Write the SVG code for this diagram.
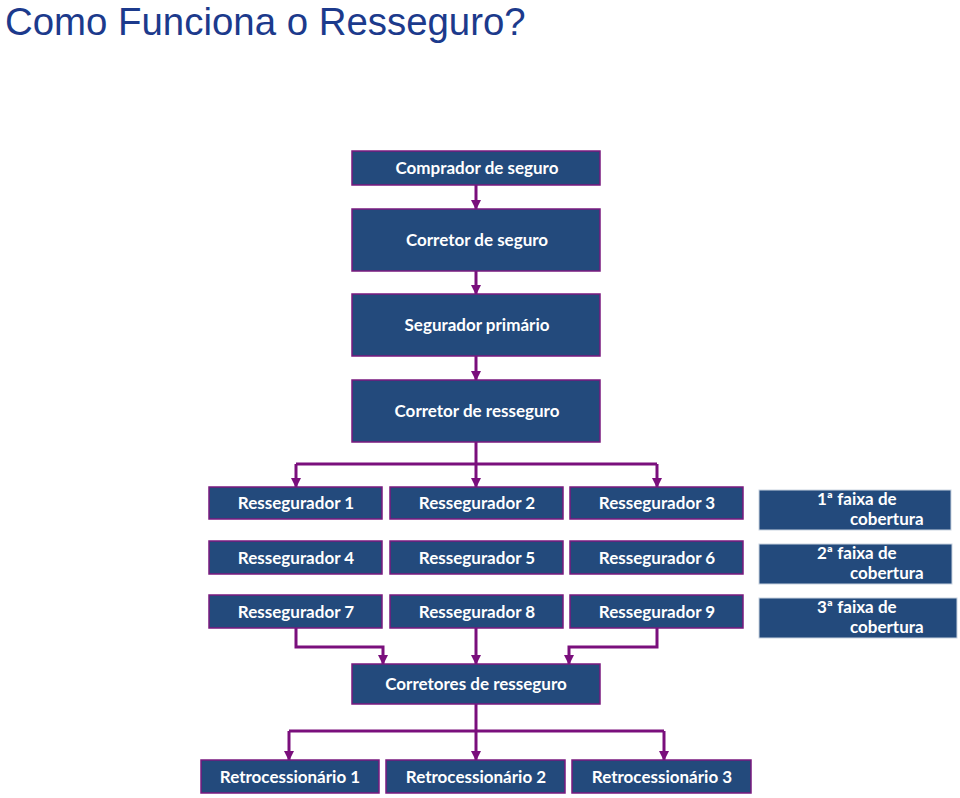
<svg xmlns="http://www.w3.org/2000/svg" width="960" height="798" viewBox="0 0 960 798">
<defs>
<style>
.n rect{fill:#234a7c;stroke:#7a1a7f;stroke-width:1.5}
.s rect{fill:#234a7c;stroke:#c9d3e0;stroke-width:1}
text.t{font-family:Lato,"Open Sans","Liberation Sans",sans-serif;font-weight:bold;font-size:17px;fill:#ffffff;text-anchor:middle}
text.l{font-family:Lato,"Open Sans","Liberation Sans",sans-serif;font-weight:bold;font-size:17px;fill:#ffffff}
.c path{fill:none;stroke:#7a0f7c;stroke-width:3;marker-end:url(#ah)}
.c path.nm{marker-end:none}
</style>
<marker id="ah" viewBox="0 0 10 10" refX="9" refY="5" markerWidth="3.4" markerHeight="3.4" orient="auto" markerUnits="strokeWidth">
<path d="M0,0 L10,5 L0,10 Z" fill="#7a0f7c"/>
</marker>
</defs>
<rect width="960" height="798" fill="#ffffff"/>
<text x="5" y="35" font-family="Liberation Sans,Arial,sans-serif" font-size="38.4" fill="#1c3a8c">Como Funciona o Resseguro?</text>

<g class="c" id="connectors">
<path d="M476,185 V209"/>
<path d="M476,271 V294"/>
<path d="M476,356 V380"/>
<path class="nm" d="M476,442 V464"/>
<path class="nm" d="M296,464 H657"/>
<path d="M296,464 V487"/>
<path d="M476,464 V487"/>
<path d="M657,464 V487"/>
<path d="M296,628 V647 H383 V664"/>
<path d="M476,628 V664"/>
<path d="M657,628 V647 H569 V664"/>
<path class="nm" d="M476,704 V731"/>
<path class="nm" d="M289,731 H664"/>
<path d="M289,731 V760"/>
<path d="M476,731 V760"/>
<path d="M664,731 V760"/>
</g>

<g class="n" id="comprador"><rect x="352" y="151" width="248" height="34"/><text class="t" x="477" y="174">Comprador de seguro</text></g>
<g class="n" id="corretor-seguro"><rect x="352" y="209" width="248" height="62"/><text class="t" x="477" y="246">Corretor de seguro</text></g>
<g class="n" id="segurador"><rect x="352" y="294" width="248" height="62"/><text class="t" x="477" y="331">Segurador primário</text></g>
<g class="n" id="corretor-resseguro"><rect x="352" y="380" width="248" height="62"/><text class="t" x="477" y="417">Corretor de resseguro</text></g>

<g class="n" id="r1"><rect x="209" y="487" width="173" height="32"/><text class="t" x="296" y="509">Ressegurador 1</text></g>
<g class="n" id="r2"><rect x="390" y="487" width="173" height="32"/><text class="t" x="477" y="509">Ressegurador 2</text></g>
<g class="n" id="r3"><rect x="570" y="487" width="173" height="32"/><text class="t" x="657" y="509">Ressegurador 3</text></g>
<g class="n" id="r4"><rect x="209" y="541" width="173" height="33"/><text class="t" x="296" y="564">Ressegurador 4</text></g>
<g class="n" id="r5"><rect x="390" y="541" width="173" height="33"/><text class="t" x="477" y="564">Ressegurador 5</text></g>
<g class="n" id="r6"><rect x="570" y="541" width="173" height="33"/><text class="t" x="657" y="564">Ressegurador 6</text></g>
<g class="n" id="r7"><rect x="209" y="595" width="173" height="33"/><text class="t" x="296" y="618">Ressegurador 7</text></g>
<g class="n" id="r8"><rect x="390" y="595" width="173" height="33"/><text class="t" x="477" y="618">Ressegurador 8</text></g>
<g class="n" id="r9"><rect x="570" y="595" width="173" height="33"/><text class="t" x="657" y="618">Ressegurador 9</text></g>

<g class="s" id="faixa1"><rect x="759" y="490" width="192" height="40"/><text class="l" x="817" y="505">1ª faixa de</text><text class="l" x="850" y="525">cobertura</text></g>
<g class="s" id="faixa2"><rect x="759" y="544" width="193" height="40"/><text class="l" x="817" y="559">2ª faixa de</text><text class="l" x="850" y="579">cobertura</text></g>
<g class="s" id="faixa3"><rect x="759" y="598" width="198" height="40"/><text class="l" x="817" y="613">3ª faixa de</text><text class="l" x="850" y="633">cobertura</text></g>

<g class="n" id="corretores"><rect x="352" y="664" width="248" height="40"/><text class="t" x="476" y="690">Corretores de resseguro</text></g>

<g class="n" id="ret1"><rect x="201" y="760" width="178" height="33"/><text class="t" x="290" y="783">Retrocessionário 1</text></g>
<g class="n" id="ret2"><rect x="386" y="760" width="179" height="33"/><text class="t" x="476" y="783">Retrocessionário 2</text></g>
<g class="n" id="ret3"><rect x="572" y="760" width="179" height="33"/><text class="t" x="662" y="783">Retrocessionário 3</text></g>
</svg>
